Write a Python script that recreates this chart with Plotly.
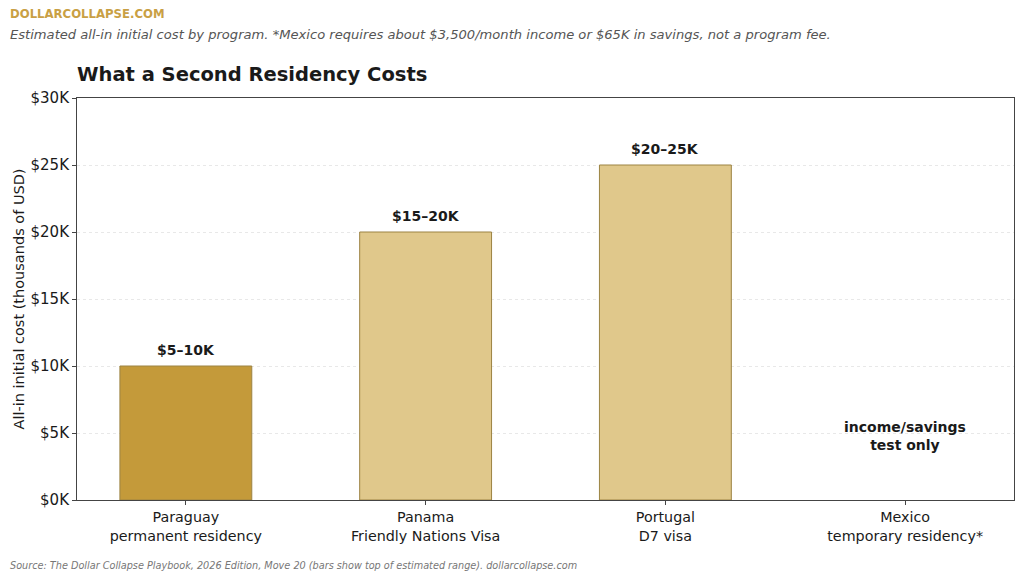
import plotly.graph_objects as go

programs = ["Paraguay<br>permanent residency", "Panama<br>Friendly Nations Visa",
            "Portugal<br>D7 visa", "Mexico<br>temporary residency*"]
top_cost = [10, 20, 25, 0]  # thousands USD, top of estimated range
range_labels = ["$5–10K", "$15–20K", "$20–25K", None]
note_text = "income/savings<br>test only"
note_y = 4.8
y_ticks = [0, 5, 10, 15, 20, 25, 30]
y_tick_labels = ["$0K", "$5K", "$10K", "$15K", "$20K", "$25K", "$30K"]

colors = ["#C49A3A", "#E0C88B", "#E0C88B", "#E0C88B"]
edge_widths = [1, 1, 1, 0]

fig = go.Figure()
fig.add_trace(go.Bar(
    x=programs, y=top_cost, width=0.55,
    marker=dict(color=colors, line=dict(color="#9C8343", width=edge_widths)),
    hoverinfo="skip",
))

font = "DejaVu Sans"
anns = []
for p, v, lab in zip(programs, top_cost, range_labels):
    if lab:
        anns.append(dict(x=p, y=v, text="<b>%s</b>" % lab, showarrow=False,
                         yanchor="bottom", yshift=6,
                         font=dict(family=font, size=14, color="#1a1a1a")))
anns.append(dict(x=programs[3], y=note_y, text="<b>%s</b>" % note_text, showarrow=False,
                 yanchor="middle", font=dict(family=font, size=14, color="#1a1a1a")))

# header / footer text, placed relative to the plot box (77..1014 x 98..500)
anns += [
    dict(xref="paper", yref="paper", x=-69/937, y=1 + (98 - 14)/402, xanchor="left", yanchor="middle",
         text="<b>DOLLARCOLLAPSE.COM</b>", showarrow=False,
         font=dict(family=font, size=11.7, color="#C9A044")),
    dict(xref="paper", yref="paper", x=-69/937, y=1 + (98 - 34)/402, xanchor="left", yanchor="middle",
         text="<i>Estimated all-in initial cost by program. *Mexico requires about $3,500/month income or $65K in savings, not a program fee.</i>",
         showarrow=False, font=dict(family=font, size=13.1, color="#555555")),
    dict(xref="paper", yref="paper", x=-69/937, y=-(565 - 500)/402, xanchor="left", yanchor="middle",
         text="<i>Source: The Dollar Collapse Playbook, 2026 Edition, Move 20 (bars show top of estimated range). dollarcollapse.com</i>",
         showarrow=False, font=dict(family=font, size=9.7, color="#777777")),
]

fig.update_layout(
    width=1024, height=580,
    margin=dict(l=77, r=10, t=98, b=80),
    paper_bgcolor="white", plot_bgcolor="white",
    showlegend=False,
    font=dict(family=font, size=14, color="#1a1a1a"),
    title=dict(text="<b>What a Second Residency Costs</b>", x=77/1024, xanchor="left",
               y=1 - 74/580, yanchor="middle", yref="container", automargin=False,
               font=dict(family=font, size=19.5, color="#1a1a1a")),
    annotations=anns,
)
fig.update_xaxes(range=[-0.454, 3.454], showline=True, mirror=True, linecolor="#444444", linewidth=1,
                 ticks="outside", ticklen=4, tickcolor="#444444", showgrid=False, automargin=False,
                 tickfont=dict(size=14.3, color="#1a1a1a"))
fig.update_yaxes(range=[0, 30], tickmode="array", tickvals=y_ticks, ticktext=y_tick_labels,
                 showline=True, mirror=True, linecolor="#444444", linewidth=1,
                 ticks="outside", ticklen=4, tickcolor="#444444", automargin=False,
                 showgrid=True, gridcolor="#e8e8e8", griddash="dot", gridwidth=1, zeroline=False,
                 tickfont=dict(size=15, color="#1a1a1a"),
                 title=dict(text="All-in initial cost (thousands of USD)", font=dict(size=14.5), standoff=2))

fig.write_html("out.html", config={"displayModeBar": False},
               post_script="document.body.style.margin='0';")
